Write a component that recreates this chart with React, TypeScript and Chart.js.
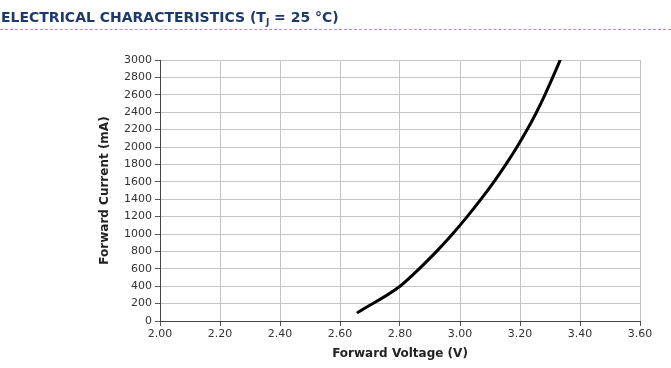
import React, { useEffect, useRef } from "react";
import { Chart, registerables } from "chart.js";

Chart.register(...registerables);

const voltage = [2.66, 2.8, 2.864, 2.922, 2.975, 3.024, 3.07, 3.113, 3.153, 3.19, 3.224, 3.255, 3.283, 3.309, 3.334];
const current = [100, 400, 600, 800, 1000, 1200, 1400, 1600, 1800, 2000, 2200, 2400, 2600, 2800, 3000];
const xTicks = [2.0, 2.2, 2.4, 2.6, 2.8, 3.0, 3.2, 3.4, 3.6];
const yTicks = [0, 200, 400, 600, 800, 1000, 1200, 1400, 1600, 1800, 2000, 2200, 2400, 2600, 2800, 3000];

const FONT = "'DejaVu Sans', Verdana, sans-serif";

export default function App() {
  const ref = useRef<HTMLCanvasElement | null>(null);

  useEffect(() => {
    if (!ref.current) return;
    const chart = new Chart(ref.current, {
      type: "line",
      data: {
        datasets: [
          {
            data: voltage.map((v, i) => ({ x: v, y: current[i] })),
            borderColor: "#000000",
            borderWidth: 3,
            pointRadius: 0,
            cubicInterpolationMode: "monotone",
            borderCapStyle: "round",
            borderJoinStyle: "round",
            fill: false,
          },
        ],
      },
      options: {
        animation: false,
        responsive: false,
        layout: { padding: { top: 60, right: 31, bottom: 0, left: 0 } },
        plugins: { legend: { display: false }, tooltip: { enabled: false } },
        scales: {
          x: {
            type: "linear",
            min: xTicks[0],
            max: xTicks[xTicks.length - 1],
            afterBuildTicks: (s: any) => {
              s.ticks = xTicks.map((v) => ({ value: v }));
            },
            afterFit: (s: any) => {
              s.height = 47;
            },
            ticks: {
              callback: (v: any) => Number(v).toFixed(2),
              color: "#333333",
              font: { family: FONT, size: 11 },
              padding: 2,
              maxRotation: 0,
            },
            grid: { color: "#c4c4c4", tickColor: "#555555", tickLength: 5 },
            border: { color: "#444444", width: 1 },
            title: {
              display: true,
              text: "Forward Voltage (V)",
              color: "#222222",
              font: { family: FONT, size: 12, weight: "bold" },
              padding: { top: 0, bottom: 7 },
            },
          },
          y: {
            type: "linear",
            min: 0,
            max: 3000,
            afterBuildTicks: (s: any) => {
              s.ticks = yTicks.map((v) => ({ value: v }));
            },
            afterFit: (s: any) => {
              s.width = 160;
            },
            ticks: {
              callback: (v: any) => String(v),
              color: "#333333",
              font: { family: FONT, size: 11 },
              padding: 3,
            },
            grid: { color: "#c4c4c4", tickColor: "#555555", tickLength: 5 },
            border: { color: "#444444", width: 1 },
            title: {
              display: true,
              text: "Forward Current (mA)",
              color: "#222222",
              font: { family: FONT, size: 12, weight: "bold" },
              padding: { top: 98, bottom: 0 },
            },
          },
        },
      },
    });
    return () => chart.destroy();
  }, []);

  return (
    <div style={{ position: "absolute", left: 0, top: 0, width: 671, height: 368, background: "#ffffff" }}>
      <canvas ref={ref} width={671} height={368} style={{ position: "absolute", left: 0, top: 0 }} />
      <div
        style={{
          position: "absolute",
          left: 1,
          top: 8,
          fontFamily: FONT,
          fontWeight: "bold",
          fontSize: 14,
          color: "#1f3a68",
          whiteSpace: "nowrap",
          lineHeight: "18px",
        }}
      >
        ELECTRICAL CHARACTERISTICS (T<sub style={{ fontSize: 9, verticalAlign: -3 }}>J</sub> = 25 °C)
      </div>
      <div
        style={{
          position: "absolute",
          left: 0,
          top: 29,
          width: 671,
          height: 0,
          borderTop: "1px dashed #b9a44a",
        }}
      />
    </div>
  );
}
